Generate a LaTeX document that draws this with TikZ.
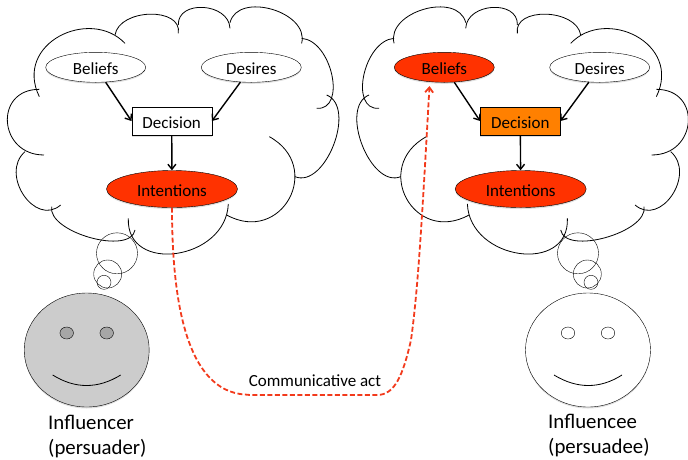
\documentclass[tikz,border=0pt]{standalone}
\usepackage{fontspec}
\setmainfont{Carlito}
\usetikzlibrary{arrows.meta,shapes.geometric,shadows}

\definecolor{hotred}{HTML}{FF3200}
\definecolor{dashred}{HTML}{F23A1C}
\definecolor{deciorange}{HTML}{FF8000}
\definecolor{facegray}{HTML}{CCCCCC}
\definecolor{eyegray}{HTML}{A6A6A6}

\tikzset{
  softshadow/.style={drop shadow={shadow xshift=0pt,shadow yshift=-1.5pt,opacity=.25}},
  oval/.style={ellipse,draw,fill=white,inner sep=0pt,softshadow},
  desirebox/.style={oval,minimum width=100pt,minimum height=30pt,text height=14.4pt,text depth=0pt},
  intentbox/.style={oval,minimum width=131pt,minimum height=37pt,text height=14.4pt,text depth=0pt},
  decisionbox/.style={rectangle,draw,fill=white,inner sep=0pt,minimum width=80pt,minimum height=28.5pt,text height=14.4pt,text depth=0pt,softshadow},
  facebox/.style={oval,minimum width=125pt,minimum height=114pt},
  eyebox/.style={ellipse,draw,inner sep=0pt,minimum width=13.5pt,minimum height=12pt},
  bubble/.style={circle,draw,inner sep=0pt},
  lobe/.style={line width=.8pt},
}

\newcommand{\cloudlobes}{
  \draw[lobe] (118,290) .. controls (40,130) and (270,20) .. (375,130);
  \draw[lobe] (345,105) .. controls (358,25) and (548,20) .. (535,100);
  \draw[lobe] (535,75) .. controls (532,-2) and (687,8) .. (690,85);
  \draw[lobe] (690,68) .. controls (714,-27) and (929,35) .. (905,130);
  \draw[lobe] (905,115) .. controls (996,122) and (1041,332) .. (950,325);
  \draw[lobe] (980,285) .. controls (1071,322) and (976,567) .. (885,530);
  \draw[lobe] (808,410) .. controls (973,501) and (845,736) .. (680,645);
  \draw[lobe] (685,612) .. controls (678,781) and (378,824) .. (385,655);
  \draw[lobe] (405,690) .. controls (392,767) and (142,697) .. (155,620);
  \draw[lobe] (182,615) .. controls (105,682) and (-2,522) .. (75,455);
  \draw[lobe] (132,465) .. controls (-5,465) and (-19,268) .. (118,268);
}

\begin{document}
\begin{tikzpicture}[x=1pt,y=-1pt]

        \useasboundingbox (0,0) rectangle (688,459);

        % the two clouds, the right one is the left one mirrored
        \begin{scope}[x=.3333pt,y=-.3333pt]
          \cloudlobes
        \end{scope}
        \begin{scope}[xshift=695.7pt,xscale=-1,x=.3333pt,y=-.3333pt]
          \cloudlobes
        \end{scope}

        \begin{scope}[every node/.style={font=\fontsize{17}{19}\selectfont}]
          \node[desirebox] (belL) at (95.7,67.3)  {Beliefs};
          \node[desirebox] (desL) at (251.3,67.3) {Desires};
          \node[decisionbox] (decL) at (171.7,121) {Decision};
          \node[intentbox,fill=hotred] (intL) at (172,189) {Intentions};

          \node[desirebox,fill=hotred] (belR) at (444.3,67.3) {Beliefs};
          \node[desirebox] (desR) at (599.7,67.3) {Desires};
          \node[decisionbox,fill=deciorange] (decR) at (520.3,121) {Decision};
          \node[intentbox,fill=hotred] (intR) at (520.7,189) {Intentions};
        \end{scope}

        \begin{scope}[every edge/.style={draw,line width=1.4pt,-{Straight Barb[length=5pt,width=8pt]}}]
          \path (belL) edge (decL.west);
          \path (desL) edge (decL.east);
          \path (decL) edge (intL);
          \path (belR) edge (decR.west);
          \path (desR) edge (decR.east);
          \path (decR) edge (intR);
        \end{scope}

        % thought bubbles
        \node[bubble,minimum size=41pt] (bigL) at (117,253.3) {};
        \node[bubble,minimum size=28pt] (midL) at (107.7,274) {};
        \node[bubble,minimum size=14pt] (smlL) at (104,282.3) {};
        \node[bubble,minimum size=41pt] (bigR) at (578,253.3) {};
        \node[bubble,minimum size=28pt] (midR) at (587.3,274) {};
        \node[bubble,minimum size=14pt] (smlR) at (591,282.3) {};

        % faces
        \node[facebox,fill=facegray] (faceL) at (86.7,350) {};
        \node[eyebox,fill=eyegray] (eyeLa) at (66.7,333) {};
        \node[eyebox,fill=eyegray] (eyeLb) at (106.7,333) {};
        \draw[line width=.8pt] (52.7,375) .. controls (75,389) and (98,389) .. (120.7,375);

        \node[facebox] (faceR) at (588,350) {};
        \node[eyebox] (eyeRa) at (568,333) {};
        \node[eyebox] (eyeRb) at (608,333) {};
        \draw[line width=.8pt] (554,375) .. controls (577,389) and (600,389) .. (622,375);

        \begin{scope}[every node/.style={font=\fontsize{20.8}{25}\selectfont,align=left,inner sep=0pt,anchor=west}]
          \node (nameL) at (48,437) {Influencer\\(persuader)};
          \node (nameR) at (548,435.5) {Influencee\\(persuadee)};
        \end{scope}

        % communicative act
        \coordinate (actEnd) at (429.5,86);
        \draw[dashred,line width=1.8pt,dash pattern=on 5pt off 2.5pt,-{Straight Barb[length=5pt,width=8pt]}]
          (intL.south) .. controls (172,290) and (183,385) .. (240,394)
          -- (250,395) -- (377,395) .. controls (395,395) and (403,375) .. (411,340)
          .. controls (418,290) and (422,220) .. (actEnd);
        \node[font=\fontsize{17}{19}\selectfont,inner sep=0pt] (actLabel) at (315,380.5) {Communicative act};

      \end{tikzpicture}
\end{document}
